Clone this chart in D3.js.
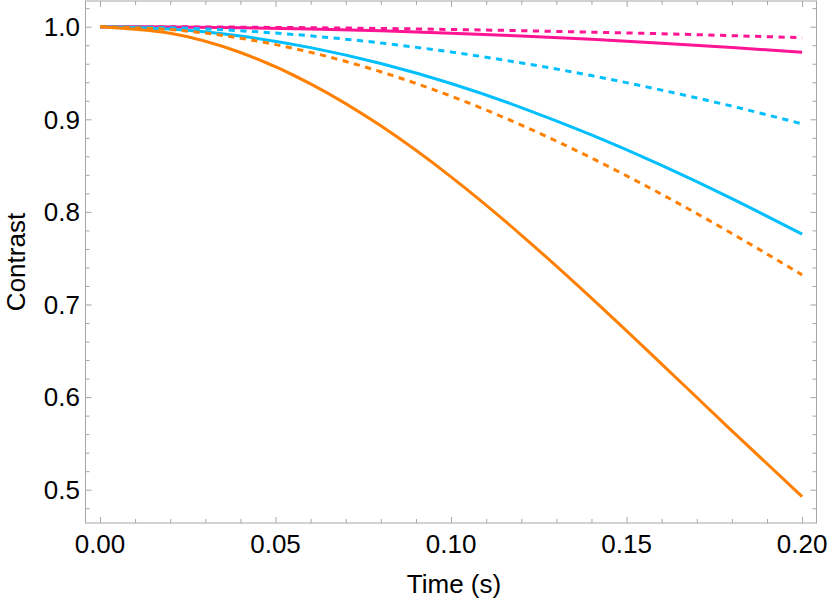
<!DOCTYPE html>
<html>
<head>
<meta charset="utf-8">
<script src="https://cdn.jsdelivr.net/npm/d3@7/dist/d3.min.js"></script>
<style>
  body { margin: 0; background: #fff; }
  text { font-family: "Liberation Sans", Arial, sans-serif; fill: #000; }
</style>
</head>
<body>
<svg id="chart" width="830" height="601"></svg>
<script>
// sample times (s)
const times = [0, 0.02, 0.04, 0.06, 0.08, 0.10, 0.12, 0.14, 0.16, 0.18, 0.20];

// contrast values
const pinkDashed   = [1, 0.9999, 0.9995, 0.9989, 0.9981, 0.9970, 0.9957, 0.9941, 0.9924, 0.9903, 0.9881];
const pinkSolid    = [1, 0.9997, 0.9989, 0.9975, 0.9955, 0.9930, 0.9900, 0.9864, 0.9822, 0.9776, 0.9724];
const cyanDashed   = [1, 0.9989, 0.9956, 0.9901, 0.9824, 0.9727, 0.9609, 0.9472, 0.9315, 0.9142, 0.8951];
const cyanSolid    = [1, 0.9975, 0.9899, 0.9774, 0.9602, 0.9386, 0.9127, 0.8831, 0.8502, 0.8143, 0.7760];
const orangeDashed = [1, 0.9969, 0.9876, 0.9723, 0.9513, 0.9250, 0.8938, 0.8582, 0.8190, 0.7767, 0.7320];
const orangeSolid  = [1, 0.9929, 0.9721, 0.9383, 0.8929, 0.8378, 0.7750, 0.7069, 0.6357, 0.5636, 0.4926];

const xTicks = [0, 0.05, 0.10, 0.15, 0.20];
const yTicks = [0.5, 0.6, 0.7, 0.8, 0.9, 1.0];

const series = [
    {values: pinkDashed,   color: '#ff1493', dashed: true},
    {values: pinkSolid,    color: '#ff1493', dashed: false},
    {values: cyanDashed,   color: '#00bfff', dashed: true},
    {values: cyanSolid,    color: '#00bfff', dashed: false},
    {values: orangeDashed, color: '#ff8000', dashed: true},
    {values: orangeSolid,  color: '#ff8000', dashed: false}
];

const frame = {left: 85.5, right: 816.5, top: 1, bottom: 523};
const frameColor = '#a6a6a6';

const svg = d3.select('#chart');

const x = d3.scaleLinear()
    .domain([-0.00413, 0.2041])
    .range([frame.left, frame.right]);
const y = d3.scaleLinear()
    .domain([0.46404, 1.02775])
    .range([frame.bottom, frame.top]);

const minorX = d3.range(0, 0.2001, 0.01).filter(function (d) {
    return !xTicks.some(function (t) { return Math.abs(t - d) < 1e-9; });
});
const minorY = d3.range(0.48, 1.021, 0.02).filter(function (d) {
    return !yTicks.some(function (t) { return Math.abs(t - d) < 1e-9; });
});

// frame + ticks, Mathematica style (ticks point inward)
function drawAxis(axis, translate) {
    var g = svg.append('g')
        .attr('transform', translate)
        .call(axis);
    g.select('.domain').remove();
    g.selectAll('line').attr('stroke', frameColor).attr('stroke-width', 1);
    return g;
}

drawAxis(d3.axisTop(x).tickValues(xTicks).tickSize(6).tickFormat(''),
    'translate(0,' + frame.bottom + ')');
drawAxis(d3.axisTop(x).tickValues(minorX).tickSize(4).tickFormat(''),
    'translate(0,' + frame.bottom + ')');
drawAxis(d3.axisBottom(x).tickValues(xTicks).tickSize(6).tickFormat(''),
    'translate(0,' + frame.top + ')');
drawAxis(d3.axisBottom(x).tickValues(minorX).tickSize(4).tickFormat(''),
    'translate(0,' + frame.top + ')');
drawAxis(d3.axisRight(y).tickValues(yTicks).tickSize(6).tickFormat(''),
    'translate(' + frame.left + ',0)');
drawAxis(d3.axisRight(y).tickValues(minorY).tickSize(4).tickFormat(''),
    'translate(' + frame.left + ',0)');
drawAxis(d3.axisLeft(y).tickValues(yTicks).tickSize(6).tickFormat(''),
    'translate(' + frame.right + ',0)');
drawAxis(d3.axisLeft(y).tickValues(minorY).tickSize(4).tickFormat(''),
    'translate(' + frame.right + ',0)');

svg.append('rect')
    .attr('x', frame.left)
    .attr('y', frame.top)
    .attr('width', frame.right - frame.left)
    .attr('height', frame.bottom - frame.top)
    .attr('fill', 'none')
    .attr('stroke', frameColor)
    .attr('stroke-width', 1);

// tick labels
svg.append('g').selectAll('text')
    .data(xTicks)
    .enter().append('text')
    .attr('x', function (d) { return x(d); })
    .attr('y', 553)
    .attr('text-anchor', 'middle')
    .style('font-size', '26px')
    .text(d3.format('.2f'));

svg.append('g').selectAll('text')
    .data(yTicks)
    .enter().append('text')
    .attr('x', 80)
    .attr('y', function (d) { return y(d); })
    .attr('dy', '0.36em')
    .attr('text-anchor', 'end')
    .style('font-size', '26px')
    .text(d3.format('.1f'));

// axis labels
svg.append('text')
    .attr('x', (frame.left + frame.right) / 2 + 3)
    .attr('y', 593)
    .attr('text-anchor', 'middle')
    .style('font-size', '26px')
    .text('Time (s)');

svg.append('text')
    .attr('transform', 'translate(25,' + ((frame.top + frame.bottom) / 2) + ') rotate(-90)')
    .attr('text-anchor', 'middle')
    .style('font-size', '26px')
    .text('Contrast');

// curves
const line = d3.line()
    .x(function (d, i) { return x(times[i]); })
    .y(function (d) { return y(d); })
    .curve(d3.curveNatural);

svg.append('g').selectAll('path')
    .data(series)
    .enter().append('path')
    .attr('d', function (s) { return line(s.values); })
    .attr('fill', 'none')
    .attr('stroke', function (s) { return s.color; })
    .attr('stroke-width', 3)
    .attr('stroke-dasharray', function (s) { return s.dashed ? '6.2,5.5' : null; });
</script>
</body>
</html>
